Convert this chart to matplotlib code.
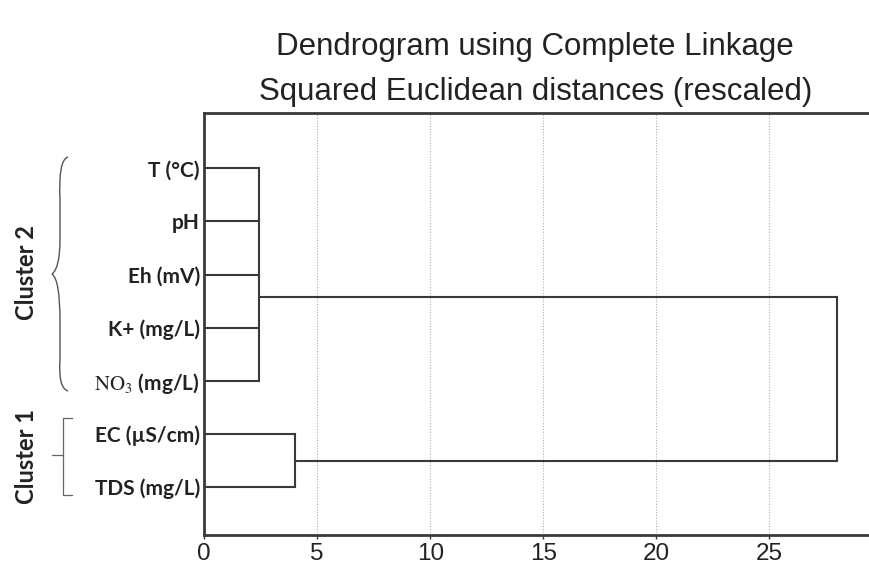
import matplotlib.pyplot as plt
from matplotlib.path import Path
from matplotlib.patches import PathPatch

# variables, top to bottom
labels = ["T (°C)", "pH", "Eh (mV)", "K+ (mg/L)", r"$\mathrm{NO_3}$ (mg/L)",
          "EC (µS/cm)", "TDS (mg/L)"]
leaf_pos = [0, 1, 2, 3, 4, 5, 6]

# merge heights (rescaled distance)
cluster2_height = 2.45
cluster2_members = [0, 1, 2, 3, 4]
cluster2_center = 2.42
cluster1_height = 4.0
cluster1_members = [5, 6]
cluster1_center = 5.5
final_height = 28.0

tick_values = [0, 5, 10, 15, 20, 25]
line_col = "#3a3a3a"

plt.rcParams['font.family'] = ['Liberation Sans', 'DejaVu Sans']
plt.rcParams['mathtext.fontset'] = 'stix'

fig = plt.figure(figsize=(8.69, 5.66), dpi=100)
ax = fig.add_axes([0.2348, 0.0548, 0.7652, 0.7456])

# vertical grid
for v in tick_values[1:]:
    ax.axvline(v, color="#b0b0b0", lw=0.8, ls=(0, (1, 1.5)), zorder=0)

# cluster 2
for p in cluster2_members:
    ax.plot([0, cluster2_height], [leaf_pos[p], leaf_pos[p]], color=line_col, lw=1.5)
ax.plot([cluster2_height, cluster2_height],
        [leaf_pos[cluster2_members[0]], leaf_pos[cluster2_members[-1]]], color=line_col, lw=1.5)

# cluster 1
for p in cluster1_members:
    ax.plot([0, cluster1_height], [leaf_pos[p], leaf_pos[p]], color=line_col, lw=1.5)
ax.plot([cluster1_height, cluster1_height],
        [leaf_pos[cluster1_members[0]], leaf_pos[cluster1_members[-1]]], color=line_col, lw=1.5)

# final join
ax.plot([cluster2_height, final_height], [cluster2_center, cluster2_center], color=line_col, lw=1.5)
ax.plot([cluster1_height, final_height], [cluster1_center, cluster1_center], color=line_col, lw=1.5)
ax.plot([final_height, final_height], [cluster2_center, cluster1_center], color=line_col, lw=1.5)

ax.set_xlim(0, 29.4)
ax.set_ylim(6.9, -1.04)
ax.set_xticks(tick_values)
ax.set_xticklabels([str(v) for v in tick_values], fontsize=17.5, color="#222222")
ax.tick_params(axis="x", length=3, width=1, color=line_col, pad=3)
ax.set_yticks(leaf_pos)
ax.set_yticklabels(labels, fontsize=15, fontweight="bold", family=["Lato", "DejaVu Sans"],
                   color="#222222")
ax.tick_params(axis="y", length=0, pad=3)

ax.spines["right"].set_visible(False)
for s in ["left", "top", "bottom"]:
    ax.spines[s].set_linewidth(2)
    ax.spines[s].set_color(line_col)

fig.text(0.616, 0.917, "Dendrogram using Complete Linkage", ha="center", va="center",
         fontsize=22.5, color="#222222")
fig.text(0.616, 0.837, "Squared Euclidean distances (rescaled)", ha="center", va="center",
         fontsize=22.5, color="#222222")

# cluster braces, drawn in pixel space
W, H = 869, 566


def fig_xy(x, y):
    return (x / W, 1 - y / H)


brace = [(68, 157), (58, 160), (60, 200), (60, 240), (60, 268), (52, 274),
         (60, 280), (60, 320), (60, 360), (58, 388), (68, 391)]
brace_path = Path([fig_xy(*p) for p in brace],
                  [Path.MOVETO, Path.CURVE3, Path.CURVE3, Path.LINETO,
                   Path.CURVE3, Path.CURVE3, Path.CURVE3, Path.CURVE3,
                   Path.LINETO, Path.CURVE3, Path.CURVE3])
fig.patches.append(PathPatch(brace_path, transform=fig.transFigure, fill=False,
                             lw=1.0, color="#555555"))

bracket = [(72, 418), (63, 418), (63, 495), (72, 495)]
fig.lines.append(plt.Line2D([fig_xy(*p)[0] for p in bracket], [fig_xy(*p)[1] for p in bracket],
                            transform=fig.transFigure, lw=0.9, color="#666666"))
fig.lines.append(plt.Line2D([fig_xy(52, 455)[0], fig_xy(63, 455)[0]],
                            [fig_xy(52, 455)[1], fig_xy(63, 455)[1]],
                            transform=fig.transFigure, lw=0.9, color="#666666"))

fig.text(*fig_xy(26, 273), "Cluster 2", rotation=90, ha="center", va="center",
         fontsize=17, fontweight="bold", family=["Lato", "DejaVu Sans"], color="#222222")
fig.text(*fig_xy(26, 456), "Cluster 1", rotation=90, ha="center", va="center",
         fontsize=17, fontweight="bold", family=["Lato", "DejaVu Sans"], color="#222222")

fig.savefig("out.png", dpi=100)
